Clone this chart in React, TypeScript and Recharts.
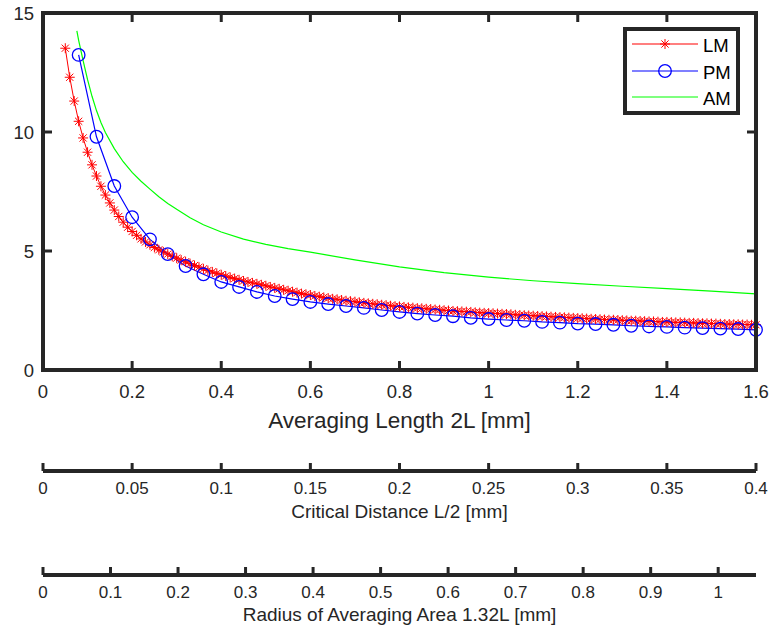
import React from 'react';
import { ComposedChart, Line, Scatter, XAxis, YAxis } from 'recharts';

const AX = '#262626';
const FONT = '"Liberation Sans", Arial, Helvetica, sans-serif';

// ---- Data ----
const seriesNames = ['LM', 'PM', 'AM'];
const seriesColors = ['#ff0000', '#0000ff', '#00ff00'];

const lmX = [
  0.05, 0.06, 0.07, 0.08, 0.09,
  0.10, 0.11, 0.12, 0.13, 0.14, 0.15, 0.16, 0.17, 0.18, 0.19,
  0.20, 0.21, 0.22, 0.23, 0.24, 0.25, 0.26, 0.27, 0.28, 0.29,
  0.30, 0.31, 0.32, 0.33, 0.34, 0.35, 0.36, 0.37, 0.38, 0.39,
  0.40, 0.41, 0.42, 0.43, 0.44, 0.45, 0.46, 0.47, 0.48, 0.49,
  0.50, 0.51, 0.52, 0.53, 0.54, 0.55, 0.56, 0.57, 0.58, 0.59,
  0.60, 0.61, 0.62, 0.63, 0.64, 0.65, 0.66, 0.67, 0.68, 0.69,
  0.70, 0.71, 0.72, 0.73, 0.74, 0.75, 0.76, 0.77, 0.78, 0.79,
  0.80, 0.81, 0.82, 0.83, 0.84, 0.85, 0.86, 0.87, 0.88, 0.89,
  0.90, 0.91, 0.92, 0.93, 0.94, 0.95, 0.96, 0.97, 0.98, 0.99,
  1.00, 1.01, 1.02, 1.03, 1.04, 1.05, 1.06, 1.07, 1.08, 1.09,
  1.10, 1.11, 1.12, 1.13, 1.14, 1.15, 1.16, 1.17, 1.18, 1.19,
  1.20, 1.21, 1.22, 1.23, 1.24, 1.25, 1.26, 1.27, 1.28, 1.29,
  1.30, 1.31, 1.32, 1.33, 1.34, 1.35, 1.36, 1.37, 1.38, 1.39,
  1.40, 1.41, 1.42, 1.43, 1.44, 1.45, 1.46, 1.47, 1.48, 1.49,
  1.50, 1.51, 1.52, 1.53, 1.54, 1.55, 1.56, 1.57, 1.58, 1.59,
  1.60,
];
const lmY = [
  13.52, 12.30, 11.30, 10.45, 9.75,
  9.15, 8.62, 8.15, 7.72, 7.35, 7.02, 6.72, 6.45, 6.21, 6.00,
  5.82, 5.66, 5.51, 5.38, 5.26, 5.15, 5.05, 4.96, 4.87, 4.78,
  4.70, 4.62, 4.55, 4.47, 4.39, 4.32, 4.25, 4.18, 4.12, 4.06,
  4.00, 3.95, 3.89, 3.84, 3.79, 3.74, 3.70, 3.66, 3.62, 3.58,
  3.54, 3.49, 3.45, 3.41, 3.37, 3.33, 3.29, 3.25, 3.21, 3.18,
  3.15, 3.11, 3.08, 3.05, 3.02, 2.99, 2.97, 2.94, 2.91, 2.89,
  2.87, 2.84, 2.82, 2.80, 2.78, 2.76, 2.74, 2.72, 2.70, 2.68,
  2.67, 2.65, 2.63, 2.62, 2.60, 2.59, 2.57, 2.56, 2.54, 2.53,
  2.51, 2.50, 2.48, 2.47, 2.46, 2.45, 2.44, 2.42, 2.41, 2.40,
  2.39, 2.38, 2.37, 2.36, 2.35, 2.34, 2.32, 2.31, 2.30, 2.29,
  2.28, 2.27, 2.26, 2.25, 2.24, 2.23, 2.22, 2.21, 2.20, 2.19,
  2.18, 2.17, 2.16, 2.15, 2.14, 2.13, 2.12, 2.11, 2.11, 2.10,
  2.09, 2.08, 2.07, 2.07, 2.06, 2.05, 2.04, 2.04, 2.03, 2.02,
  2.02, 2.01, 2.00, 2.00, 1.99, 1.98, 1.98, 1.97, 1.96, 1.96,
  1.95, 1.95, 1.94, 1.93, 1.93, 1.92, 1.92, 1.91, 1.91, 1.90,
  1.90,
];

const pmX = [
  0.08, 0.12, 0.16, 0.20, 0.24, 0.28, 0.32, 0.36, 0.40, 0.44,
  0.48, 0.52, 0.56, 0.60, 0.64, 0.68, 0.72, 0.76, 0.80, 0.84,
  0.88, 0.92, 0.96, 1.00, 1.04, 1.08, 1.12, 1.16, 1.20, 1.24,
  1.28, 1.32, 1.36, 1.40, 1.44, 1.48, 1.52, 1.56, 1.60,
];
const pmY = [
  13.24, 9.80, 7.73, 6.42, 5.49, 4.87, 4.37, 4.02, 3.70, 3.49,
  3.28, 3.11, 2.98, 2.86, 2.77, 2.69, 2.61, 2.52, 2.44, 2.37,
  2.31, 2.26, 2.19, 2.14, 2.10, 2.07, 2.02, 1.99, 1.95, 1.93,
  1.90, 1.86, 1.83, 1.81, 1.78, 1.76, 1.74, 1.72, 1.69,
];

const amX = [
  0.076, 0.08, 0.09, 0.10, 0.11, 0.12, 0.13, 0.14, 0.16, 0.18,
  0.20, 0.22, 0.24, 0.26, 0.28, 0.30, 0.33, 0.36, 0.40, 0.45,
  0.50, 0.55, 0.60, 0.70, 0.80, 0.90, 1.00, 1.10, 1.20, 1.30,
  1.40, 1.50, 1.60,
];
const amY = [
  14.25, 13.85, 13.0, 12.2, 11.5, 10.9, 10.4, 9.98, 9.3, 8.75,
  8.3, 7.93, 7.6, 7.28, 7.0, 6.75, 6.4, 6.1, 5.8, 5.5,
  5.28, 5.1, 4.95, 4.63, 4.33, 4.09, 3.9, 3.75, 3.63, 3.52,
  3.42, 3.31, 3.2,
];

const mainXTicks = [0, 0.2, 0.4, 0.6, 0.8, 1, 1.2, 1.4, 1.6];
const yTicks = [0, 5, 10, 15];
const cdTicks = [0, 0.05, 0.1, 0.15, 0.2, 0.25, 0.3, 0.35, 0.4];
const raTicks = [0, 0.1, 0.2, 0.3, 0.4, 0.5, 0.6, 0.7, 0.8, 0.9, 1];
const cdRange = [0, 0.4];
const raRange = [0, 1.056];
const mainRange = [0, 1.6];
const yRange = [0, 15];
const stripRange = [0, 1];

const mainXLabel = 'Averaging Length 2L [mm]';
const cdLabel = 'Critical Distance L/2 [mm]';
const raLabel = 'Radius of Averaging Area 1.32L [mm]';

const lmData = lmX.map((x, i) => ({ x, y: lmY[i] }));
const pmData = pmX.map((x, i) => ({ x, y: pmY[i] }));
const amData = amX.map((x, i) => ({ x, y: amY[i] }));

// axes box (MATLAB "box on") and its inward ticks, placed through the scales
const [x0, x1] = mainRange;
const [y0, y1] = yRange;
const boxData = [
  { x: x0, y: y0 },
  { x: x1, y: y0 },
  { x: x1, y: y1 },
  { x: x0, y: y1 },
  { x: x0, y: y0 },
];
const boxTickData = [
  ...mainXTicks.map((x) => ({ x, y: y0, dx: 0, dy: -9 })),
  ...mainXTicks.map((x) => ({ x, y: y1, dx: 0, dy: 9 })),
  ...yTicks.map((y) => ({ x: x0, y, dx: 9, dy: 0 })),
  ...yTicks.map((y) => ({ x: x1, y, dx: -9, dy: 0 })),
];
const cdTickData = cdTicks.map((x) => ({ x, y: stripRange[0], dx: 0, dy: -8 }));
const raTickData = raTicks.map((x) => ({ x, y: stripRange[0], dx: 0, dy: -8 }));

// ---- Shapes ----
const Asterisk = ({ cx, cy, color, s = 5 }: any) => {
  const d = s * 0.72;
  return (
    <g stroke={color} strokeWidth={1}>
      <line x1={cx - s} y1={cy} x2={cx + s} y2={cy} />
      <line x1={cx} y1={cy - s} x2={cx} y2={cy + s} />
      <line x1={cx - d} y1={cy - d} x2={cx + d} y2={cy + d} />
      <line x1={cx - d} y1={cy + d} x2={cx + d} y2={cy - d} />
    </g>
  );
};

const AsteriskShape = (p: any) => {
  if (p.cx == null || p.cy == null) return <g />;
  return <Asterisk cx={p.cx} cy={p.cy} color={seriesColors[0]} />;
};

const CircleShape = (p: any) => {
  if (p.cx == null || p.cy == null) return <g />;
  return <circle cx={p.cx} cy={p.cy} r={6.3} fill="none" stroke={seriesColors[1]} strokeWidth={1.3} />;
};

const TickShape = (p: any) => {
  const { cx, cy, payload } = p;
  if (cx == null || cy == null) return <g />;
  return <line x1={cx} y1={cy} x2={cx + payload.dx} y2={cy + payload.dy} stroke={AX} strokeWidth={3} />;
};

// ---- Legend ----
const LegendBox = () => {
  const rows = [14, 41, 67];
  return (
    <div
      style={{
        position: 'absolute',
        left: 623,
        top: 27,
        width: 117,
        height: 88,
        border: `4px solid ${AX}`,
        boxSizing: 'border-box',
        background: '#fff',
      }}
    >
      <svg width={109} height={80} style={{ display: 'block', position: 'absolute', left: 0, top: 0 }}>
        {seriesNames.map((name, i) => {
          const y = rows[i] - 1;
          return (
            <g key={name}>
              <line x1={5} x2={71} y1={y} y2={y} stroke={seriesColors[i]} strokeWidth={1.2} />
              {i === 0 && <Asterisk cx={38} cy={y} color={seriesColors[0]} />}
              {i === 1 && <circle cx={38} cy={y} r={6.3} fill="none" stroke={seriesColors[1]} strokeWidth={1.3} />}
              <text x={76} y={y + 8.2} fontSize={18.5} fontFamily={FONT} fill="#000">
                {name}
              </text>
            </g>
          );
        })}
      </svg>
    </div>
  );
};

// box frame drawn in its own layer with the same scales as the main plot
const BoxOverlay = () => (
  <div style={{ position: 'absolute', left: 0, top: 0, width: 771, height: 440 }}>
    <ComposedChart width={771} height={440} margin={{ top: 13, right: 15, bottom: 70, left: 43 }}>
      <XAxis xAxisId="o" dataKey="x" type="number" domain={mainRange} ticks={mainXTicks} hide />
      <YAxis yAxisId="o" dataKey="y" type="number" domain={yRange} ticks={yTicks} hide />
      <Line
        xAxisId="o"
        yAxisId="o"
        data={boxData}
        dataKey="y"
        name="box"
        type="linear"
        stroke={AX}
        strokeWidth={4}
        strokeLinecap="square"
        dot={false}
        activeDot={false}
        isAnimationActive={false}
      />
      <Scatter xAxisId="o" yAxisId="o" data={boxTickData} dataKey="y" name="ticks" shape={<TickShape />} isAnimationActive={false} />
    </ComposedChart>
  </div>
);

// one secondary scale, drawn as its own small chart below the main one
const ScaleStrip = ({ top, height, axisHeight, range, ticks, tickData, title, titleOffset }: any) => (
  <div style={{ position: 'absolute', left: 0, top, width: 771, height }}>
    <ComposedChart width={771} height={height} margin={{ top: 0, right: 15, bottom: 0, left: 43 }}>
      <XAxis
        xAxisId="s"
        dataKey="x"
        type="number"
        domain={range}
        ticks={ticks}
        interval={0}
        height={axisHeight}
        tickLine={false}
        tickSize={6}
        tickMargin={5}
        axisLine={{ stroke: AX, strokeWidth: 4 }}
        tick={{ fontSize: 17, fill: AX, fontFamily: FONT }}
        label={{ value: title, position: 'insideBottom', offset: titleOffset, fontSize: 19, fill: AX, fontFamily: FONT }}
      />
      <YAxis yAxisId="s" type="number" domain={stripRange} hide />
      <Scatter xAxisId="s" yAxisId="s" data={tickData} dataKey="y" shape={<TickShape />} isAnimationActive={false} />
    </ComposedChart>
  </div>
);

export default function App() {
  return (
    <div style={{ position: 'absolute', left: 0, top: 0, width: 771, height: 632, background: '#fff' }}>
      <div style={{ position: 'absolute', left: 0, top: 0, width: 771, height: 440 }}>
        <ComposedChart width={771} height={440} margin={{ top: 13, right: 15, bottom: 0, left: 13 }}>
          <XAxis
            xAxisId="a1"
            dataKey="x"
            type="number"
            domain={mainRange}
            ticks={mainXTicks}
            interval={0}
            height={70}
            tickLine={false}
            tickSize={6}
            tickMargin={9}
            axisLine={false}
            tick={{ fontSize: 18.5, fill: AX, fontFamily: FONT }}
            label={{ value: mainXLabel, position: 'insideBottom', offset: 12, fontSize: 22.5, fill: AX, fontFamily: FONT }}
          />
          <YAxis
            yAxisId="b1"
            dataKey="y"
            type="number"
            domain={yRange}
            ticks={yTicks}
            interval={0}
            width={30}
            tickLine={false}
            tickSize={6}
            tickMargin={3}
            axisLine={false}
            tick={{ fontSize: 18.5, fill: AX, fontFamily: FONT }}
          />
          <Line
            xAxisId="a1"
            yAxisId="b1"
            data={lmData}
            dataKey="y"
            name={seriesNames[0]}
            type="linear"
            stroke={seriesColors[0]}
            strokeWidth={1}
            dot={false}
            activeDot={false}
            isAnimationActive={false}
          />
          <Line
            xAxisId="a1"
            yAxisId="b1"
            data={pmData}
            dataKey="y"
            name={seriesNames[1]}
            type="linear"
            stroke={seriesColors[1]}
            strokeWidth={1.2}
            dot={false}
            activeDot={false}
            isAnimationActive={false}
          />
          <Line
            xAxisId="a1"
            yAxisId="b1"
            data={amData}
            dataKey="y"
            name={seriesNames[2]}
            type="linear"
            stroke={seriesColors[2]}
            strokeWidth={1.2}
            dot={false}
            activeDot={false}
            isAnimationActive={false}
          />
          <Scatter xAxisId="a1" yAxisId="b1" data={lmData} dataKey="y" name="LM markers" shape={<AsteriskShape />} isAnimationActive={false} />
          <Scatter xAxisId="a1" yAxisId="b1" data={pmData} dataKey="y" name="PM markers" shape={<CircleShape />} isAnimationActive={false} />
        </ComposedChart>
      </div>
      <BoxOverlay />
      <ScaleStrip
        top={440}
        height={100}
        axisHeight={69}
        range={cdRange}
        ticks={cdTicks}
        tickData={cdTickData}
        title={cdLabel}
        titleOffset={22}
      />
      <ScaleStrip
        top={545}
        height={87}
        axisHeight={57}
        range={raRange}
        ticks={raTicks}
        tickData={raTickData}
        title={raLabel}
        titleOffset={11}
      />
      <LegendBox />
    </div>
  );
}
